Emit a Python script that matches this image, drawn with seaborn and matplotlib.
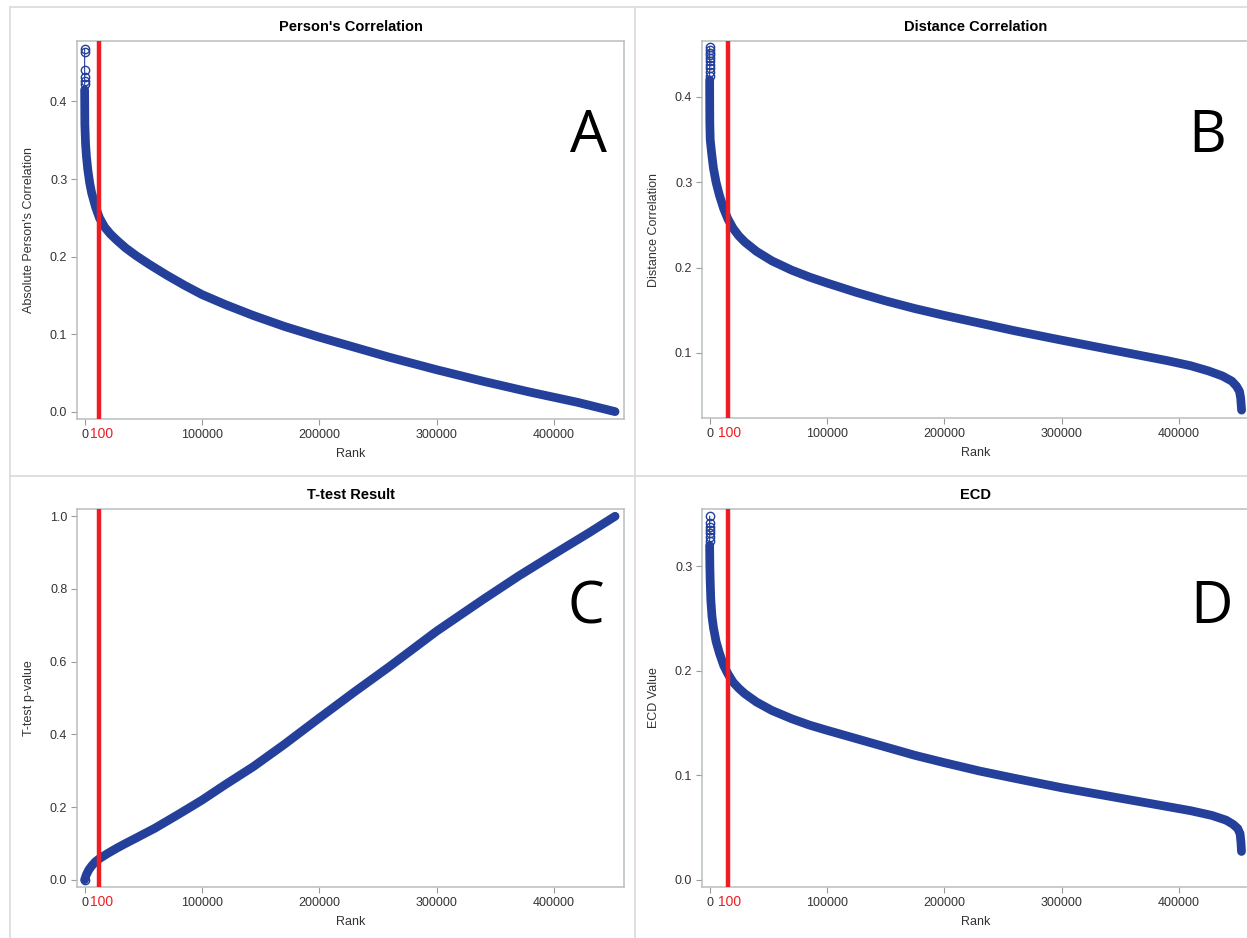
import matplotlib
matplotlib.use("Agg")
import matplotlib.pyplot as plt
from matplotlib.lines import Line2D
import matplotlib.transforms as mtransforms
import seaborn as sns

sns.set_theme(style="white")
plt.rcParams["font.family"] = ["Liberation Sans", "DejaVu Sans"]

W, H = 1247, 938
BLUE = "#24409A"
RED = "#EE1D23"

# ── Datos ─────────────────────────────────────────────────────────────────
titles = ["Person's Correlation", "Distance Correlation", "T-test Result", "ECD"]
ylabels = ["Absolute Person's Correlation", "Distance Correlation",
           "T-test p-value", "ECD Value"]
letters = ["A", "B", "C", "D"]
cutoff_label = "100"
cutoff_rank = [12600, 15600, 12600, 15600]

# puntos aislados en la parte superior (rank ~ 0)
top_rank_a = [1, 2, 3, 4, 5, 6]
top_val_a = [0.468, 0.464, 0.441, 0.432, 0.427, 0.422]
top_rank_b = [1, 2, 3, 4, 5, 6, 7, 8, 9, 10]
top_val_b = [0.458, 0.455, 0.452, 0.449, 0.446, 0.442, 0.438, 0.434, 0.429, 0.424]
top_rank_c = [0]
top_val_c = [0.0]
top_rank_d = [1, 2, 3, 4, 5, 6, 7]
top_val_d = [0.348, 0.341, 0.338, 0.335, 0.332, 0.328, 0.324]

# curva principal
rank_a = [8, 200, 800, 1500, 2700, 4300, 6000, 9300, 12600, 17000, 22000,
          27500, 35000, 44000, 55000, 70000, 85000, 100000, 120000, 143700,
          170000, 200000, 230000, 260000, 300000, 340000, 380000, 420000,
          452000]
val_a = [0.415, 0.37, 0.345, 0.33, 0.312, 0.295, 0.282, 0.264, 0.250, 0.238,
         0.229, 0.221, 0.211, 0.201, 0.190, 0.176, 0.163, 0.151, 0.138, 0.124,
         0.110, 0.096, 0.083, 0.070, 0.054, 0.039, 0.025, 0.012, 0.0]

rank_b = [11, 150, 500, 1700, 3300, 5500, 8300, 12000, 15600, 20000, 25000,
          30000, 40000, 53000, 70000, 85000, 100000, 125000, 150000, 175000,
          200000, 230000, 260000, 300000, 330000, 360000, 390000, 410000,
          425000, 437000, 445000, 449000, 451500, 452500, 453000, 453300]
val_b = [0.42, 0.37, 0.35, 0.334, 0.316, 0.300, 0.285, 0.269, 0.257, 0.246,
         0.237, 0.230, 0.219, 0.208, 0.197, 0.189, 0.182, 0.171, 0.161, 0.152,
         0.144, 0.135, 0.126, 0.115, 0.107, 0.099, 0.091, 0.085, 0.079,
         0.073, 0.067, 0.061, 0.055, 0.047, 0.038, 0.033]

rank_c = [0, 1500, 3500, 6000, 9000, 12600, 20000, 27500, 35000, 44000,
          60000, 80000, 100000, 120000, 143700, 170000, 200000, 230000,
          260000, 300000, 340000, 370000, 400000, 430000, 452000]
val_c = [0.0, 0.014, 0.027, 0.038, 0.049, 0.058, 0.073, 0.087, 0.100, 0.115,
         0.142, 0.180, 0.219, 0.262, 0.311, 0.372, 0.445, 0.517, 0.587,
         0.684, 0.772, 0.836, 0.896, 0.955, 1.0]

rank_d = [8, 200, 500, 1000, 2000, 3300, 5500, 8300, 12000, 15600, 20000,
          25000, 30000, 40000, 53000, 70000, 85000, 100000, 125000, 150000,
          175000, 200000, 230000, 260000, 300000, 330000, 360000, 390000,
          410000, 428000, 440000, 446000, 450000, 452000, 452800, 453200]
val_d = [0.32, 0.30, 0.285, 0.268, 0.252, 0.241, 0.228, 0.217, 0.205, 0.197,
         0.189, 0.183, 0.178, 0.170, 0.162, 0.154, 0.148, 0.143, 0.135, 0.127,
         0.119, 0.112, 0.104, 0.097, 0.088, 0.082, 0.076, 0.070, 0.066,
         0.0615, 0.057, 0.053, 0.049, 0.044, 0.035, 0.027]

xticks = [0, 100000, 200000, 300000, 400000]
yticks = [[0.0, 0.1, 0.2, 0.3, 0.4], [0.1, 0.2, 0.3, 0.4],
          [0.0, 0.2, 0.4, 0.6, 0.8, 1.0], [0.0, 0.1, 0.2, 0.3]]
ylims = [(-0.0095, 0.478), (0.0238, 0.4656), (-0.020, 1.020), (-0.007, 0.3548)]

curves = [(rank_a, val_a, top_rank_a, top_val_a),
          (rank_b, val_b, top_rank_b, top_val_b),
          (rank_c, val_c, top_rank_c, top_val_c),
          (rank_d, val_d, top_rank_d, top_val_d)]

# posiciones de los ejes en píxeles (x0, x1, y_top, y_bottom)
boxes = [(77, 624, 41, 419), (702, 1249, 41, 418),
         (77, 624, 509, 887), (702, 1249, 509, 887)]
letter_pos = [(588, 137), (1207, 137), (586, 608), (1211, 608)]

fig = plt.figure(figsize=(W / 100, H / 100), dpi=100)

# marcos grises de los paneles
for xs, ys in [((10, W), (7, 7)), ((10, 10), (7, H)), ((635, 635), (7, H)),
               ((10, W), (476, 476))]:
    fig.add_artist(Line2D([x / W for x in xs], [1 - y / H for y in ys],
                          transform=fig.transFigure, color="#dadada", lw=1.2))

for i, (x0, x1, yt, yb) in enumerate(boxes):
    ax = fig.add_axes([x0 / W, 1 - yb / H, (x1 - x0) / W, (yb - yt) / H])
    rk, vl, trk, tvl = curves[i]

    sns.lineplot(x=rk, y=vl, ax=ax, color=BLUE, linewidth=6.3,
                 estimator=None, sort=False, solid_capstyle="round",
                 solid_joinstyle="round")
    sns.lineplot(x=trk, y=tvl, ax=ax, color=BLUE, linewidth=0.8,
                 estimator=None, sort=False, marker="o", markersize=6,
                 markerfacecolor="none", markeredgecolor=BLUE,
                 markeredgewidth=1.0)
    ax.axvline(cutoff_rank[i], color=RED, lw=3.2, zorder=5)

    ax.set_xlim(-6500, 459600)
    ax.set_ylim(*ylims[i])
    ax.set_xticks(xticks)
    ax.set_xticklabels([str(t) for t in xticks])
    ax.set_yticks(yticks[i])
    ax.set_yticklabels([f"{t:.1f}" for t in yticks[i]])
    ax.tick_params(axis="both", which="both", direction="out", length=4,
                   width=0.8, color="#9a9a9a", labelsize=9,
                   labelcolor="#333333", pad=3, bottom=True, left=True)
    for sp in ax.spines.values():
        sp.set_color("#b8bebe")
        sp.set_linewidth(1.1)

    ax.set_title(titles[i], fontsize=10.5, fontweight="bold", color="black",
                 pad=7)
    ax.set_xlabel("Rank", fontsize=9, color="#333333")
    ax.set_ylabel(ylabels[i], fontsize=9, color="#333333")
    ax.xaxis.set_label_coords(0.5, -0.078)
    ax.yaxis.set_label_coords(-0.077, 0.5)

    trans = mtransforms.blended_transform_factory(ax.transData, ax.transAxes)
    trans = trans + mtransforms.ScaledTranslation(2 / 100, 0, fig.dpi_scale_trans)
    ax.text(cutoff_rank[i], -0.022, cutoff_label, transform=trans, color=RED,
            fontsize=10, ha="center", va="top")

    lx, ly = letter_pos[i]
    fig.text(lx / W, 1 - ly / H, letters[i], fontsize=42, family="Open Sans",
             ha="center", va="center", color="black")

fig.savefig("out.png", dpi=100)
